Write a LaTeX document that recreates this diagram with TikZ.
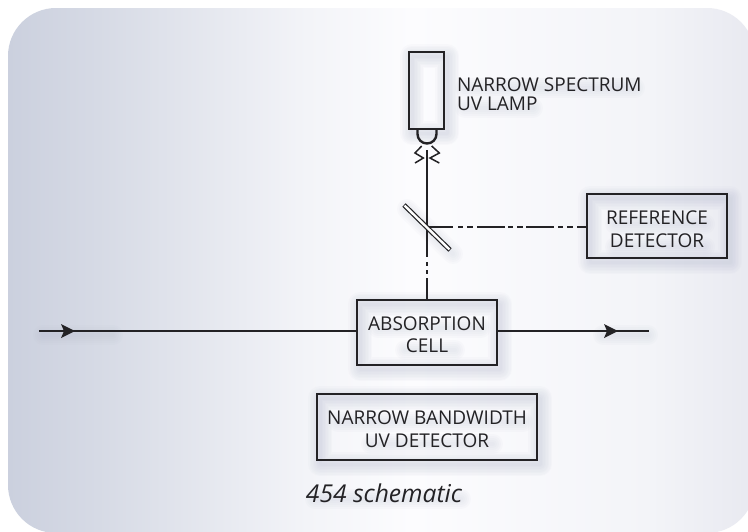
\documentclass[tikz,border=0pt]{standalone}
\usepackage{fontspec}
\setmainfont{Open Sans}
\definecolor{ink}{HTML}{232225}
\definecolor{shadowc}{HTML}{A9AFC6}
\definecolor{pa}{HTML}{CBD0DE}
\definecolor{pb}{HTML}{D6DAE5}
\definecolor{pc}{HTML}{F3F4F8}
\definecolor{pd}{HTML}{FCFCFE}
\definecolor{pe}{HTML}{F3F4F8}
\definecolor{pf}{HTML}{E8E9F0}
\pgfdeclarehorizontalshading{panelgrad}{100bp}{
  color(0bp)=(pa);color(25bp)=(pa);color(31bp)=(pb);color(45bp)=(pc);
  color(52bp)=(pd);color(68bp)=(pe);color(75bp)=(pf);color(100bp)=(pf)}
\tikzset{
  x=1pt,y=-1pt,
  every node/.style={inner sep=0pt,outer sep=0pt},
  labeltext/.style={font=\fontsize{19}{22.5}\selectfont,text=ink,align=center},
  boxframe/.style={draw=ink,line width=2.7pt},
  wire/.style={draw=ink,line width=2.4pt},
  spark/.style={draw=ink,line width=1.5pt,line join=miter},
  ghost/.style={draw=shadowc,draw opacity=.045,line join=round,line cap=round}
}
\newcommand{\softrect}[4]{%
  \foreach \w in {3,6,...,24}{%
    \path[ghost,line width=\w pt] (#1+3,#2+4) rectangle (#3+3,#4+4);}%
}
\newcommand{\softbar}[4]{%
  \foreach \w in {4,8,...,20}{%
    \path[ghost,line width=\w pt] (#1+3,#2+4) -- (#3+3,#4+4);}%
}
\begin{document}
\begin{tikzpicture}
\useasboundingbox (0,0) rectangle (748,531);
\fill[white] (0,0) rectangle (748,531);
\begin{scope}
\clip (0,0) rectangle (748,531);
\path[shading=panelgrad,rounded corners=48pt] (8,8) rectangle (755,533);
\end{scope}
% soft glows
\softrect{409}{52}{444}{129}
\softrect{587}{194}{727}{258}
\softrect{357}{300}{497}{365}
\softrect{317}{394}{537}{460}
\softbar{404}{205}{450}{250}
\softbar{40}{331}{110}{331}
\softbar{600}{331}{645}{331}
\softbar{462}{84}{632}{84}
\softbar{462}{104}{530}{104}
\softbar{312}{495}{458}{495}
\softbar{612}{220}{702}{220}
\softbar{612}{243}{702}{243}
\softbar{375}{324}{478}{324}
\softbar{402}{346}{452}{346}
\softbar{335}{418}{520}{418}
\softbar{368}{440}{490}{440}
% named ends of the free connectors
\coordinate (beamtop) at (426.7,150);
\coordinate (flowin) at (39,331);
\coordinate (flowout) at (649,331);
\coordinate (mirA) at (404,205);
\coordinate (mirB) at (450,250);
\coordinate (mirC) at (426.7,226.7);
% boxes
\node[boxframe,minimum width=35pt,minimum height=77pt] (lamp) at (426.5,90.5) {};
\node[boxframe,minimum width=140pt,minimum height=64pt,labeltext] (ref) at (657,226) {\rule{0pt}{20.5pt}REFERENCE\\DETECTOR};
\node[boxframe,minimum width=140pt,minimum height=65pt,labeltext] (cell) at (427,332.5) {\rule{0pt}{18.5pt}ABSORPTION\\CELL};
\node[boxframe,minimum width=220pt,minimum height=66pt,labeltext] (uvd) at (427,427) {\rule{0pt}{18.5pt}NARROW BANDWIDTH\\UV DETECTOR};
\node[font=\fontsize{19}{19.5}\selectfont,text=ink,align=left,anchor=west] (lamplabel) at (457,94) {NARROW SPECTRUM\\UV LAMP};
\node[font=\fontsize{24.6}{26}\itshape\selectfont,text=ink] (cap) at (384,493) {454 schematic};
% lamp bulb
\draw[ink,line width=2.4pt] (417.5,129) -- (417.5,134) arc[start angle=180,end angle=360,radius=9.5pt] -- (436.5,129);
% sparks
\draw[spark] (421.7,146) -- (415,153) -- (423.3,158) -- (415,163);
\draw[spark] (431.7,146) -- (439.3,153) -- (430,158) -- (439.3,163);
% beam
\draw[wire] (beamtop) -- (mirC);
\draw[wire] (mirC) -- (426.7,257);
\draw[wire] (426.7,262) -- (426.7,266);
\draw[wire] (426.7,270) -- (426.7,274);
\draw[wire] (426.7,278) -- (cell.north -| mirC);
% reference branch
\draw[wire] (mirC) -- (453,226.7);
\draw[wire] (458,226.7) -- (463,226.7);
\draw[wire] (467,226.7) -- (473,226.7);
\draw[wire] (477,226.7) -- (505,226.7);
\draw[wire] (508,226.7) -- (513,226.7);
\draw[wire] (517,226.7) -- (523,226.7);
\draw[wire] (526,226.7) -- (554,226.7);
\draw[wire] (558,226.7) -- (563,226.7);
\draw[wire] (567,226.7) -- (573,226.7);
\draw[wire] (577,226.7) -- (ref.west |- mirC);
% mirror
\draw[ink,line width=4.8pt] (mirA) -- (mirB);
\draw[white,line width=2.4pt,shorten <=.8pt,shorten >=.8pt] (mirA) -- (mirB);
% flow
\draw[wire] (flowin) -- (cell.west |- flowin);
\draw[wire] (cell.east |- flowin) -- (flowout);
\fill[ink] (75,331) -- (61,324) -- (64,331) -- (61,338) -- cycle;
\fill[ink] (618,331) -- (604,324) -- (607,331) -- (604,338) -- cycle;
\end{tikzpicture}
\end{document}
